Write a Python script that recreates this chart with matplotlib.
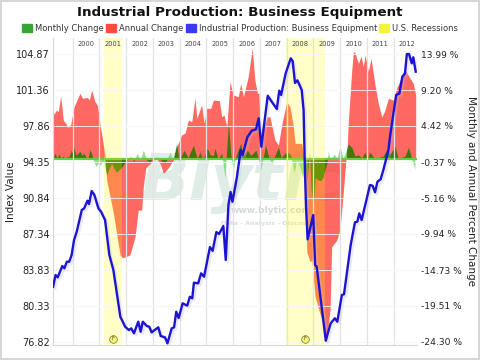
import matplotlib
matplotlib.use("Agg")
import matplotlib.pyplot as plt
import matplotlib.patheffects as pe
from matplotlib.patches import Patch, Rectangle

# index value
index_years = [1999.27, 1999.36, 1999.44, 1999.61, 1999.69, 1999.78, 1999.87, 1999.96, 2000.05, 2000.15,
               2000.34, 2000.43, 2000.55, 2000.61, 2000.71, 2000.81, 2000.96, 2001.06, 2001.21, 2001.37,
               2001.52, 2001.78, 2001.96, 2002.10, 2002.19, 2002.29, 2002.45, 2002.54, 2002.62, 2002.77,
               2002.86, 2002.95, 2003.20, 2003.29, 2003.45, 2003.54, 2003.70, 2003.79, 2003.87, 2003.96,
               2004.11, 2004.28, 2004.38, 2004.47, 2004.53, 2004.69, 2004.80, 2004.91, 2005.13, 2005.23,
               2005.37, 2005.47, 2005.63, 2005.72, 2005.82, 2005.90, 2005.97, 2006.13, 2006.28, 2006.35,
               2006.53, 2006.69, 2006.85, 2006.95, 2007.05, 2007.29, 2007.48, 2007.63, 2007.72, 2007.79,
               2007.96, 2008.15, 2008.22, 2008.31, 2008.40, 2008.56, 2008.63, 2008.68, 2008.72, 2008.78,
               2008.99, 2009.06, 2009.12, 2009.46, 2009.64, 2009.80, 2009.89, 2010.06, 2010.14, 2010.39,
               2010.55, 2010.64, 2010.71, 2010.80, 2011.11, 2011.21, 2011.30, 2011.39, 2011.51, 2011.61,
               2011.80, 2011.86, 2012.09, 2012.21, 2012.32, 2012.42, 2012.49, 2012.57, 2012.67, 2012.73,
               2012.82]
index_values = [82.21, 83.35, 83.12, 84.22, 84.00, 84.64, 84.64, 85.29, 86.75, 87.56,
                89.68, 89.84, 90.58, 90.26, 91.53, 91.14, 89.84, 89.51, 88.70, 85.29,
                83.83, 79.28, 78.31, 77.99, 78.15, 77.67, 78.80, 77.82, 78.80, 78.38,
                78.31, 77.76, 78.25, 77.40, 77.28, 76.69, 78.15, 78.25, 79.77, 79.16,
                80.59, 80.36, 81.23, 81.08, 82.60, 82.54, 83.51, 83.18, 86.07, 85.70,
                87.53, 87.34, 88.12, 84.81, 90.16, 91.43, 90.48, 92.76, 95.52, 95.03,
                96.79, 97.40, 97.54, 98.61, 95.84, 100.81, 100.07, 99.51, 101.30, 100.88,
                102.99, 104.45, 104.19, 102.05, 102.31, 101.36, 99.40, 93.57, 90.00, 86.82,
                89.19, 84.32, 84.15, 76.95, 78.64, 79.13, 78.80, 81.40, 81.47, 86.27,
                88.48, 88.54, 89.35, 88.70, 92.11, 92.04, 91.40, 92.43, 92.67, 93.57,
                95.52, 96.82, 100.88, 101.04, 102.66, 102.99, 104.87, 104.87, 103.96, 104.55,
                103.15]

# annual change, percent
annual_years = [1999.27, 1999.40, 1999.46, 1999.55, 1999.65, 1999.84, 1999.93, 2000.05, 2000.27, 2000.37,
                2000.55, 2000.62, 2000.71, 2000.83, 2000.92, 2001.02, 2001.22, 2001.27, 2001.52, 2001.77,
                2001.87, 2002.14, 2002.33, 2002.45, 2002.58, 2002.64, 2002.73, 2003.01, 2003.15, 2003.26,
                2003.39, 2003.57, 2003.76, 2003.89, 2004.07, 2004.20, 2004.32, 2004.45, 2004.57, 2004.64,
                2004.82, 2004.91, 2005.01, 2005.16, 2005.26, 2005.48, 2005.57, 2005.66, 2005.76, 2005.88,
                2006.00, 2006.19, 2006.28, 2006.38, 2006.56, 2006.71, 2006.81, 2006.90, 2006.96, 2007.03,
                2007.12, 2007.27, 2007.37, 2007.56, 2007.69, 2007.81, 2008.00, 2008.12, 2008.25, 2008.31,
                2008.56, 2008.65, 2008.70, 2008.75, 2008.87, 2008.94, 2009.06, 2009.31, 2009.47, 2009.62,
                2009.68, 2009.87, 2009.99, 2010.12, 2010.21, 2010.24, 2010.30, 2010.43, 2010.49, 2010.55,
                2010.68, 2010.78, 2010.86, 2010.93, 2011.05, 2011.15, 2011.30, 2011.42, 2011.55, 2011.65,
                2011.80, 2011.98, 2012.11, 2012.30, 2012.36, 2012.42, 2012.61, 2012.73, 2012.82]
annual_values = [5.88, 6.54, 6.32, 8.41, 5.21, 4.24, 4.68, 6.98, 8.76, 8.10,
                 8.23, 7.87, 9.20, 7.65, 7.21, 4.77, 0.16, -2.77, -7.16, -12.74,
                 -13.10, -12.74, -10.31, -6.76, -6.76, -3.66, -1.17, -0.11, 0.03, -0.51,
                 -1.88, -1.17, -0.11, 1.66, 3.22, 3.48, 5.21, 4.99, 8.10, 5.44,
                 7.21, 4.77, 6.77, 6.77, 7.87, 7.78, 5.65, 5.88, 4.32, 10.27,
                 8.54, 8.31, 10.09, 8.31, 10.97, 14.75, 10.53, 8.80, 8.76, 1.66,
                 4.11, 5.65, 5.65, 2.55, 1.89, 4.55, 7.65, 6.98, 4.32, 2.11,
                 2.11, 0.12, -4.10, -12.34, -13.63, -13.41, -18.29, -21.39, -24.27, -20.06,
                 -11.64, -10.75, -9.42, -4.10, -0.11, 0.16, 4.81, 11.86, 14.30, 14.16,
                 12.75, 13.73, 12.30, 13.86, 11.64, 13.42, 9.87, 7.43, 5.65, 6.32,
                 8.10, 7.87, 9.47, 10.97, 11.64, 11.86, 10.76, 10.09, 8.54]

# monthly change, percent
monthly_years = [1999.26, 1999.34, 1999.41, 1999.49, 1999.56, 1999.64, 1999.71, 1999.79, 1999.86, 1999.94,
                 2000.01, 2000.05, 2000.12, 2000.20, 2000.27, 2000.35, 2000.42, 2000.50, 2000.57, 2000.65,
                 2000.72, 2000.80, 2000.87, 2000.95, 2001.02, 2001.10, 2001.17, 2001.27, 2001.36, 2001.46,
                 2001.54, 2001.64, 2001.73, 2001.83, 2001.96, 2002.07, 2002.18, 2002.29, 2002.41, 2002.52,
                 2002.64, 2002.77, 2002.89, 2003.00, 2003.19, 2003.33, 2003.45, 2003.64, 2003.75, 2003.88,
                 2003.97, 2004.16, 2004.31, 2004.51, 2004.65, 2004.76, 2004.87, 2005.03, 2005.13, 2005.26,
                 2005.32, 2005.43, 2005.57, 2005.69, 2005.82, 2005.92, 2006.00, 2006.10, 2006.28, 2006.37,
                 2006.53, 2006.66, 2006.85, 2006.93, 2007.03, 2007.21, 2007.34, 2007.44, 2007.69, 2007.79,
                 2007.94, 2008.09, 2008.16, 2008.27, 2008.38, 2008.50, 2008.60, 2008.68, 2008.76, 2008.85,
                 2008.91, 2009.00, 2009.06, 2009.13, 2009.21, 2009.28, 2009.36, 2009.43, 2009.51, 2009.55,
                 2009.62, 2009.78, 2009.88, 2009.99, 2010.10, 2010.20, 2010.30, 2010.43, 2010.55, 2010.66,
                 2010.81, 2010.92, 2011.02, 2011.11, 2011.30, 2011.41, 2011.60, 2011.74, 2011.86, 2012.05,
                 2012.16, 2012.42, 2012.55, 2012.67, 2012.79]
monthly_values = [0.00, 0.80, 0.13, 0.67, 0.13, 0.40, 0.13, 0.27, 0.27, 1.20,
                  0.67, 1.60, 0.53, 0.80, 1.06, 0.53, 0.80, 0.27, 0.13, 1.33,
                  0.53, -0.40, -0.93, -0.53, -0.80, -0.40, -0.27, -2.13, -1.20, -0.53,
                  -1.20, -1.73, -1.40, -1.06, -0.40, 0.13, 0.40, -0.27, 0.80, -0.13,
                  1.20, -0.13, -0.36, 0.23, 0.27, -0.20, -0.53, 0.93, -0.20, 2.20,
                  -0.30, 1.20, 0.20, 1.86, 0.10, 0.93, -0.13, 1.46, 0.60, 0.50,
                  1.46, 0.10, 0.80, -2.53, 4.80, 0.10, -1.46, 0.40, 2.13, 0.40,
                  1.20, 0.50, 1.20, 0.20, -1.46, 1.86, 0.10, -0.53, 1.60, 0.20,
                  0.80, 0.80, 0.50, -1.86, -0.10, -1.20, -2.40, -0.70, -2.90, 1.20,
                  -4.00, -6.00, -2.40, -2.66, -2.80, -2.80, -2.40, -1.33, -0.40, 1.06,
                  0.00, 0.67, 0.10, 1.73, 0.10, 0.90, 2.00, 1.60, 0.40, 0.60,
                  0.20, 0.93, 0.10, 0.93, 0.00, 0.20, 0.40, 1.33, 0.67, 1.73,
                  0.10, 0.40, 1.60, 0.00, -1.33]

recessions = [(2001.17, 2001.83), (2007.96, 2009.43)]
recession_marks = [2001.5, 2008.67]
year_labels = list(range(2000, 2013))
left_ticks = [76.82, 80.33, 83.83, 87.34, 90.84, 94.35, 97.86, 101.36, 104.87]
right_ticks = [-24.30, -19.51, -14.73, -9.94, -5.16, -0.37, 4.42, 9.20, 13.99]

fig = plt.figure(figsize=(4.8, 3.6), dpi=100)
fig.patches.append(Rectangle((0.002, 0.004), 0.996, 0.993, transform=fig.transFigure, fill=False,
                             edgecolor="#cfcfcf", linewidth=1.2))

ax = fig.add_axes([52.5 / 480, 15 / 360, 364 / 480, 307 / 360])
ax.set_xlim(1999.245, 2012.85)
ax.set_ylim(76.53, 106.43)
ax.set_yticks(left_ticks)
ax.set_yticklabels(["%.2f" % t for t in left_ticks], fontsize=7, color="#222222")
ax.set_xticks(year_labels)
ax.tick_params(axis="x", length=0, labelbottom=False)
ax.tick_params(axis="y", length=0, pad=2)
ax.grid(axis="x", color="#e2e2e2", linewidth=0.9)
ax.grid(axis="y", color="#f6f6f6", linewidth=0.6)
ax.set_axisbelow(True)
for side in ["top", "right"]:
    ax.spines[side].set_visible(False)
for side in ["left", "bottom"]:
    ax.spines[side].set_color("#d8d8d8")
ax.set_ylabel("Index Value", fontsize=7.5, color="#222222")
ax.yaxis.set_label_coords(-0.1, 0.5)

pct = ax.twinx()
pct.set_ylim(-24.70, 16.12)
pct.set_yticks(right_ticks)
pct.set_yticklabels(["%.2f %%" % t for t in right_ticks], fontsize=6.6, color="#222222")
pct.tick_params(axis="y", length=0, pad=3)
for side in ["top", "right", "left", "bottom"]:
    pct.spines[side].set_visible(False)
pct.set_ylabel("Monthly and Annual Percent Change", fontsize=7.5, rotation=270, color="#222222")
pct.yaxis.set_label_coords(1.15, 0.5)
pct.yaxis.label.set_va("center")

# watermark
pct.text(0.52, 0.53, "Blytic", transform=pct.transAxes, ha="center", va="center", fontsize=46,
         fontweight="bold", style="italic", color="#e0ece6", zorder=0)
pct.text(0.6, 0.437, "www.blytic.com", transform=pct.transAxes, ha="center", va="center", fontsize=6.6,
         fontweight="bold", color="#d4dad6", zorder=1)
pct.text(0.6, 0.397, "Data - Analysis - Discussion", transform=pct.transAxes, ha="center", va="center",
         fontsize=4.6, fontweight="bold", color="#dddddd", zorder=1)

pct.fill_between(monthly_years, monthly_values, 0, color="#7fe07a", alpha=0.9, linewidth=0, zorder=1.5)
annual_area = pct.fill_between(annual_years, annual_values, 0, color="#ff2a20", alpha=0.7, linewidth=0, zorder=2)
monthly_dark = pct.fill_between(monthly_years, monthly_values, 0, color="#1f7c00", alpha=0.8, linewidth=0, zorder=3)
monthly_dark.set_clip_path(annual_area.get_paths()[0], annual_area.get_transform())
pct.axhline(0, color="#5fcf3c", linewidth=1.6, zorder=4)
for start, end in recessions:
    pct.axvspan(start, end, color="#ffff00", alpha=0.22, linewidth=0, zorder=5)

ax.set_zorder(pct.get_zorder() + 1)
ax.patch.set_visible(False)
ax.plot(index_years, index_values, color="#1c14d2", linewidth=1.7, zorder=6,
        path_effects=[pe.SimpleLineShadow(offset=(1.5, -1.5), shadow_color="#b8bce0", alpha=0.3), pe.Normal()])

for year in year_labels:
    ax.text(year + 0.5, 0.982, str(year), transform=ax.get_xaxis_transform(), ha="center", va="center",
            fontsize=4.8, color="#444444")
for year in recession_marks:
    ax.plot([year], [0.02], transform=ax.get_xaxis_transform(), marker="o", markersize=5.5, color="#f2f27a",
            markeredgecolor="#777722", markeredgewidth=0.5, zorder=7, clip_on=False)
    ax.text(year, 0.02, "F", transform=ax.get_xaxis_transform(), ha="center", va="center", fontsize=3.5,
            color="#444400", zorder=8)

fig.text(0.5, 0.964, "Industrial Production: Business Equipment", ha="center", va="center", fontsize=9.7,
         fontweight="bold", color="#111111")
handles = [Patch(color="#35a535", label="Monthly Change"), Patch(color="#ff4a40", label="Annual Change"),
           Patch(color="#3a3af0", label="Industrial Production: Business Equipment"),
           Patch(color="#f4f43c", label="U.S. Recessions")]
fig.legend(handles=handles, loc="center", bbox_to_anchor=(0.5, 0.921), ncol=4, frameon=False, fontsize=6.0,
           handlelength=1.2, handleheight=1.2, handletextpad=0.35, columnspacing=0.3, labelcolor="#333333",
           borderpad=0, borderaxespad=0)

fig.savefig("out.png", dpi=100)
